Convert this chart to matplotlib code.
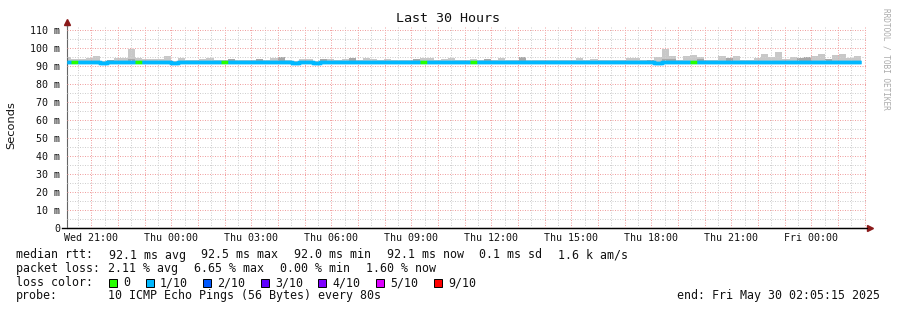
import matplotlib
matplotlib.use("Agg")
import matplotlib.pyplot as plt
import matplotlib.dates as mdates
from matplotlib.ticker import MultipleLocator, FuncFormatter
from matplotlib.patches import Rectangle
from datetime import datetime, timedelta

# --- data ---
end_time = datetime(2025, 5, 30, 2, 5, 15)
span_hours = 30
step_seconds = 960
first_step_end = datetime(2025, 5, 28, 20, 14, 55)

median_ms = [
    92.0, 92.0, 92.0, 92.0, 92.0, 91.7, 92.0, 92.0, 92.0, 92.0,
    92.0, 92.0, 92.0, 92.0, 92.0, 91.7, 92.0, 92.0, 92.0, 92.0,
    92.0, 92.0, 92.0, 92.0, 92.0, 92.0, 92.0, 92.0, 92.0, 92.0,
    92.0, 92.0, 91.7, 92.0, 92.0, 91.7, 92.0, 92.0, 92.0, 92.0,
    92.0, 92.0, 92.0, 92.0, 92.0, 92.0, 92.0, 92.0, 92.0, 92.0,
    92.0, 92.0, 92.0, 92.0, 92.0, 92.0, 92.0, 92.0, 92.0, 92.0,
    92.0, 92.0, 92.0, 92.0, 92.0, 92.0, 92.0, 92.0, 92.0, 92.0,
    92.0, 92.0, 92.0, 92.0, 92.0, 92.0, 92.0, 92.0, 92.0, 92.0,
    92.0, 92.0, 92.0, 91.7, 92.0, 92.0, 92.0, 92.0, 92.0, 92.0,
    92.0, 92.0, 92.0, 92.0, 92.0, 92.0, 92.0, 92.0, 92.0, 92.0,
    92.0, 92.0, 92.0, 92.0, 92.0, 92.0, 92.0, 92.0, 92.0, 92.0,
    92.0, 92.0,
]
smoke_top_ms = [
    95.0, 93.7, 93.7, 94.6, 95.6, 92.8, 93.5, 94.6, 94.6, 99.3,
    94.6, 93.7, 94.1, 94.1, 95.6, 92.8, 94.6, 93.3, 93.5, 94.1,
    94.6, 93.2, 93.3, 94.1, 93.5, 93.2, 93.2, 94.1, 93.5, 94.6,
    95.0, 93.3, 93.0, 93.7, 94.1, 93.0, 93.7, 94.1, 93.3, 93.7,
    94.6, 93.2, 94.6, 93.7, 93.3, 93.7, 93.3, 93.2, 93.2, 94.1,
    94.6, 94.6, 93.2, 94.1, 94.6, 93.5, 93.4, 93.7, 93.2, 94.1,
    93.3, 94.6, 93.3, 93.2, 95.0, 93.2, 93.2, 93.3, 93.3, 93.2,
    93.3, 93.3, 94.6, 93.3, 94.1, 93.2, 93.2, 93.2, 93.2, 94.6,
    94.6, 93.2, 93.5, 95.0, 99.5, 95.6, 93.2, 95.6, 96.3, 95.0,
    93.2, 93.2, 95.6, 94.6, 95.6, 93.2, 93.2, 94.6, 96.7, 95.0,
    98.0, 93.7, 95.0, 94.6, 95.0, 95.6, 96.7, 93.7, 96.3, 96.7,
    94.6, 95.6,
]
smoke_dark_ms = [
    92.0, 92.0, 92.0, 92.0, 92.0, 92.0, 93.5, 92.0, 92.0, 94.1,
    92.0, 92.0, 92.0, 92.0, 92.0, 92.0, 92.0, 92.0, 92.0, 92.0,
    92.0, 92.0, 92.0, 94.1, 92.0, 92.0, 92.0, 94.1, 92.0, 92.0,
    95.0, 92.0, 92.0, 92.0, 92.0, 92.0, 93.7, 92.0, 92.0, 92.0,
    94.6, 92.0, 92.0, 92.0, 92.0, 92.0, 92.0, 92.0, 92.0, 94.1,
    92.0, 92.0, 92.0, 92.0, 92.0, 92.0, 92.0, 92.0, 92.0, 94.1,
    92.0, 92.0, 92.0, 92.0, 95.0, 92.0, 92.0, 92.0, 92.0, 92.0,
    92.0, 92.0, 92.0, 92.0, 92.0, 92.0, 92.0, 92.0, 92.0, 92.0,
    92.0, 92.0, 93.5, 92.0, 94.1, 93.7, 92.0, 92.0, 92.0, 93.7,
    92.0, 92.0, 92.0, 94.6, 92.0, 92.0, 92.0, 92.0, 92.0, 92.0,
    92.0, 92.0, 92.0, 94.6, 95.0, 92.0, 92.0, 93.7, 92.0, 92.0,
    92.0, 92.0,
]
zero_loss_steps = [1, 10, 22, 50, 57, 88]

loss_labels = ['0', '1/10', '2/10', '3/10', '4/10', '5/10', '9/10']
loss_colors = ['#26ff00', '#00b8ff', '#0059ff', '#5e00ff', '#7e00ff', '#dd00ff', '#ff0000']

rtt_items = ['median rtt:', '92.1 ms avg', '92.5 ms max', '92.0 ms min', '92.1 ms now',
             '0.1 ms sd', '1.6 k am/s']
loss_items = ['packet loss:', '2.11 % avg', '6.65 % max', '0.00 % min', '1.60 % now']
probe_text = '10 ICMP Echo Pings (56 Bytes) every 80s'
end_text = 'end: Fri May 30 02:05:15 2025'

W, H = 897, 310
MONO = 'DejaVu Sans Mono'

fig = plt.figure(figsize=(W / 100, H / 100), dpi=100, facecolor='white')
ax = fig.add_axes([67 / W, 1 - 228 / H, 800 / W, 202 / H])
ax.set_facecolor('white')

start_time = end_time - timedelta(hours=span_hours)
n = len(median_ms)
edge_times = [start_time] + [first_step_end + timedelta(seconds=step_seconds * k) for k in range(n)]
edges = mdates.date2num(edge_times)

# smoke
ax.stairs(smoke_top_ms, edges, baseline=median_ms, fill=True, color='#c8c8c8', lw=0, zorder=1)
ax.stairs(smoke_dark_ms, edges, baseline=median_ms, fill=True, color='#a8a8a8', lw=0, zorder=1.1)

# median line, coloured by loss
ax.stairs(median_ms, edges, baseline=None, color=loss_colors[1], lw=2.5, zorder=3)
step_colors = [loss_colors[0] if i in zero_loss_steps else loss_colors[1] for i in range(n)]
ax.hlines(median_ms, edges[:-1], edges[1:], colors=step_colors, lw=2.5, zorder=3.1)

ax.set_xlim(mdates.date2num(start_time), mdates.date2num(end_time))
ax.set_ylim(0, 112.2)

ax.yaxis.set_major_locator(MultipleLocator(10))
ax.yaxis.set_minor_locator(MultipleLocator(5))
ax.yaxis.set_major_formatter(FuncFormatter(lambda v, p: '0' if v == 0 else '%d m' % v))

ax.xaxis.set_major_locator(mdates.HourLocator(interval=1))
ax.xaxis.set_minor_locator(mdates.MinuteLocator(byminute=[30]))
def xfmt(v, p):
    d = mdates.num2date(v)
    return d.strftime('%a %H:%M') if d.hour % 3 == 0 else ''
ax.xaxis.set_major_formatter(FuncFormatter(xfmt))

ax.set_axisbelow(False)
ax.grid(which='major', color='#f0a0a0', linestyle=(0, (1, 1.5)), lw=0.72, zorder=2.5)
ax.grid(which='minor', color='#cfcfcf', linestyle=(0, (1, 1.5)), lw=0.72, zorder=2.4)

ax.tick_params(axis='y', which='both', length=0, pad=5, labelsize=7.2, labelcolor='#111111')
ax.tick_params(axis='x', which='both', length=0, pad=3.6, labelsize=7.2, labelcolor='#111111')
for lbl in ax.get_xticklabels() + ax.get_yticklabels():
    lbl.set_fontfamily(MONO)

for s in ['top', 'right']:
    ax.spines[s].set_visible(False)
ax.spines['left'].set_color('#666666')
ax.spines['bottom'].set_color('black')
ax.plot([0, 0], [1, 1.015], transform=ax.transAxes, color='#666666', lw=1, clip_on=False)
ax.plot([-0.006, 1.0], [0, 0], transform=ax.transAxes, color='black', lw=1, clip_on=False)
ax.plot([0], [1.02], marker='^', ms=4, color='#8b1a1a', transform=ax.transAxes, clip_on=False)
ax.plot([1.004], [0], marker='>', ms=4, color='#8b1a1a', transform=ax.transAxes, clip_on=False)

def ftext(x, y, s, **kw):
    kw.setdefault('family', MONO)
    kw.setdefault('fontsize', 8.4)
    kw.setdefault('va', 'center')
    kw.setdefault('color', '#111111')
    fig.text(x / W, 1 - y / H, s, **kw)

ftext(448, 19, 'Last 30 Hours', fontsize=9.6, ha='center')
ftext(11, 125, 'Seconds', fontsize=8.2, ha='center', rotation=90, family='DejaVu Sans')
ftext(886, 59, 'RRDTOOL / TOBI OETIKER', fontsize=5.6, ha='center', rotation=270, color='#aaaaaa')

# legend rows (rrdtool justifies these, so each piece sits at its own x)
for x0, s in zip([16, 108.7, 201.3, 294, 386.6, 479.3, 558], rtt_items):
    ftext(x0, 255, s)
for x0, s in zip([16, 108, 194, 280, 366], loss_items):
    ftext(x0, 268.5, s)
ftext(16, 282.5, 'loss color:')
ftext(16, 296, 'probe:')
ftext(107.7, 296, probe_text)
ftext(880, 296, end_text, ha='right')

sq_x = [109, 146, 203, 261, 318, 376, 434]
for x0, lab, col in zip(sq_x, loss_labels, loss_colors):
    fig.patches.append(Rectangle((x0 / W, 1 - 287 / H), 8 / W, 8 / H, transform=fig.transFigure,
                                 facecolor=col, edgecolor='black', lw=0.7))
    ftext(x0 + 14, 282.5, lab)

fig.savefig('out.png', dpi=100, facecolor='white')
